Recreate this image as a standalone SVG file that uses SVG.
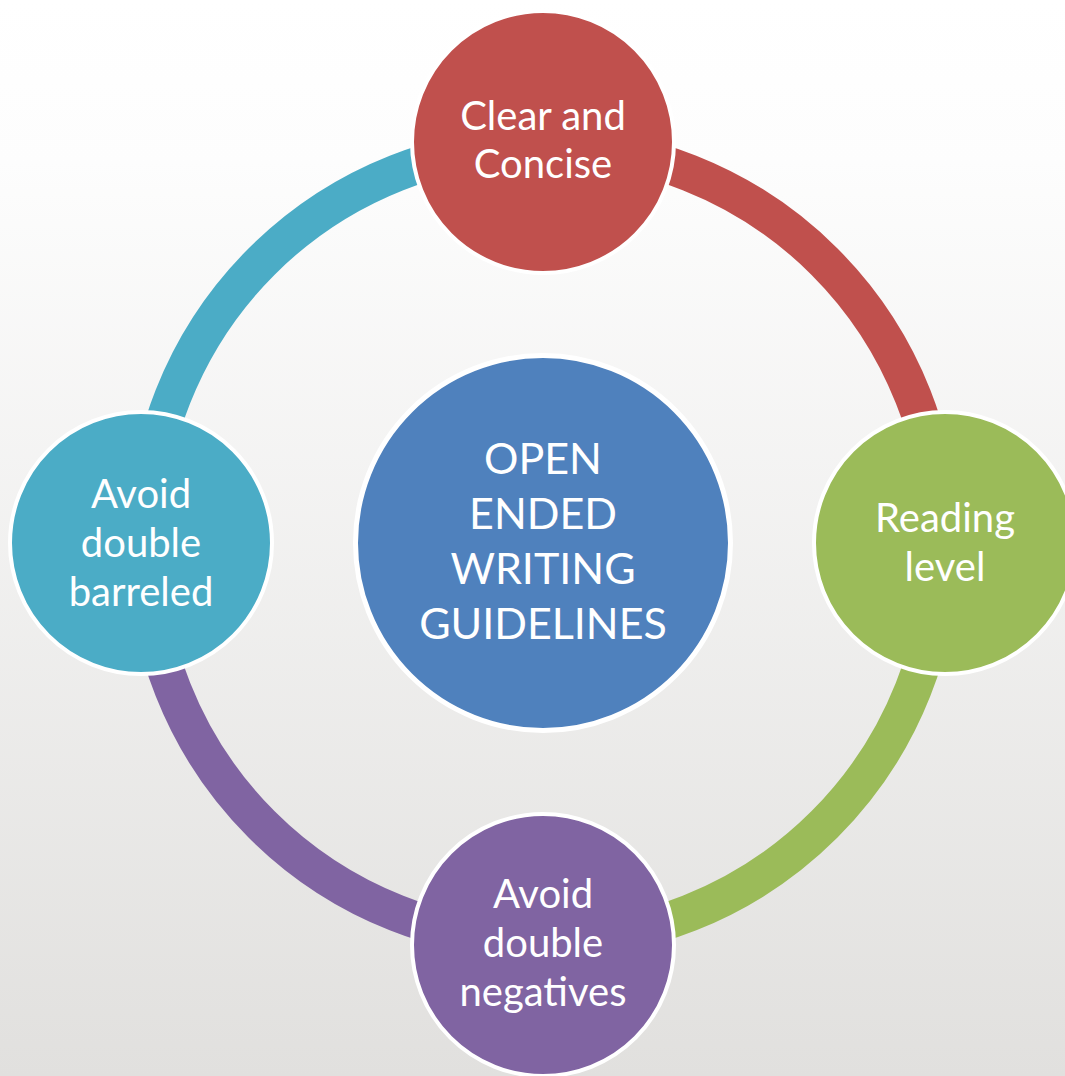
<svg xmlns="http://www.w3.org/2000/svg" width="1065" height="1076" viewBox="0 0 1065 1076">
<defs>
<linearGradient id="bg" x1="0" y1="0" x2="0" y2="1">
<stop offset="0" stop-color="#ffffff"/>
<stop offset="0.15" stop-color="#fdfdfd"/>
<stop offset="1" stop-color="#e1e0de"/>
</linearGradient>
<style>
.arc{fill:none;stroke-width:37;stroke-linecap:butt}
.node{stroke:#ffffff;stroke-width:4}
.lbl{font-family:Lato,"Open Sans","Liberation Sans",sans-serif;fill:#ffffff;text-anchor:middle;font-size:40px}
.big{font-size:43px}
</style>
</defs>
<rect x="0" y="0" width="1065" height="1076" fill="url(#bg)"/>
<g id="connectors">
<path class="arc" stroke="#c0504d" d="M543,145 A398,398 0 0 1 941,543"/>
<path class="arc" stroke="#9bbb59" d="M941,543 A398,398 0 0 1 543,941"/>
<path class="arc" stroke="#8064a2" d="M543,941 A398,398 0 0 1 145,543"/>
<path class="arc" stroke="#4bacc6" d="M145,543 A398,398 0 0 1 543,145"/>
</g>
<g id="center">
<circle cx="543" cy="543" r="187.5" fill="#4f81bd" stroke="#ffffff" stroke-width="5"/>
<text class="lbl big" x="543" y="474">OPEN</text>
<text class="lbl big" x="543" y="529">ENDED</text>
<text class="lbl big" x="543" y="584">WRITING</text>
<text class="lbl big" x="543" y="639">GUIDELINES</text>
</g>
<g id="node-top">
<circle class="node" cx="543" cy="142" r="131" fill="#c0504d"/>
<text class="lbl" x="543" y="130">Clear and</text>
<text class="lbl" x="543" y="178">Concise</text>
</g>
<g id="node-right">
<circle class="node" cx="945" cy="543" r="131" fill="#9bbb59"/>
<text class="lbl" x="945" y="532">Reading</text>
<text class="lbl" x="945" y="581">level</text>
</g>
<g id="node-bottom">
<circle class="node" cx="543" cy="945" r="131" fill="#8064a2"/>
<text class="lbl" x="543" y="908">Avoid</text>
<text class="lbl" x="543" y="957">double</text>
<text class="lbl" x="543" y="1006">negatives</text>
</g>
<g id="node-left">
<circle class="node" cx="141" cy="543" r="131" fill="#4bacc6"/>
<text class="lbl" x="141" y="508">Avoid</text>
<text class="lbl" x="141" y="557">double</text>
<text class="lbl" x="141" y="606">barreled</text>
</g>
</svg>
